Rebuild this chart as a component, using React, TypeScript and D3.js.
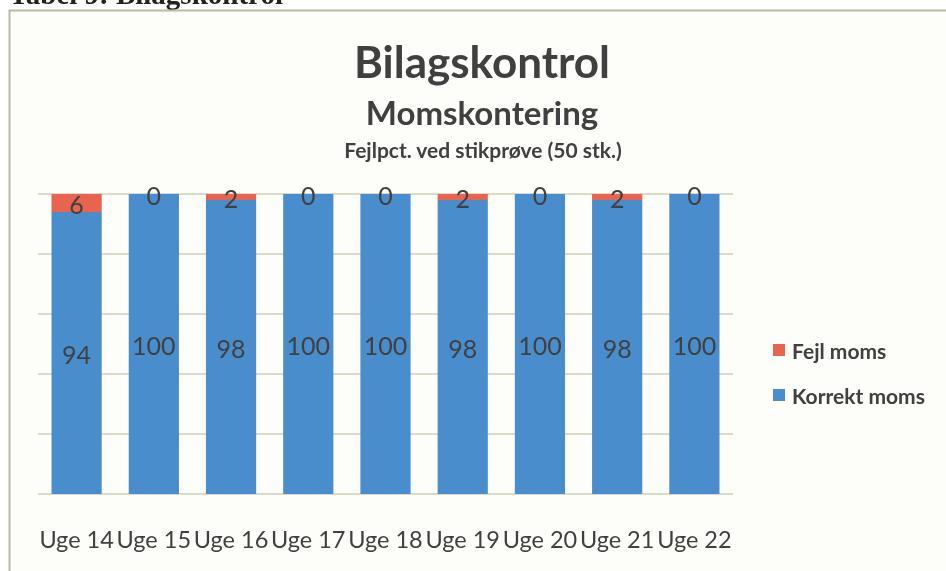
import { useRef, useEffect } from 'react'
import * as d3 from 'd3'

const weeks = ['Uge 14', 'Uge 15', 'Uge 16', 'Uge 17', 'Uge 18', 'Uge 19', 'Uge 20', 'Uge 21', 'Uge 22']
const correct = [94, 100, 98, 100, 100, 98, 100, 98, 100]
const errors = [6, 0, 2, 0, 0, 2, 0, 2, 0]
const seriesNames = ['Fejl moms', 'Korrekt moms']
const yTicks = [0, 20, 40, 60, 80, 100]

const W = 946
const H = 571
const BLUE = '#4a8dcc'
const RED = '#e8644e'
const TEXT = '#404040'
const FONT = 'Lato, "Open Sans", sans-serif'

export default function App() {
  const svgRef = useRef<SVGSVGElement>(null)

  useEffect(() => {
    if (!svgRef.current) return
    const svg = d3.select(svgRef.current)
    svg.selectAll('*').remove()

    svg.append('rect').attr('width', W).attr('height', H).attr('fill', '#ffffff')

    // caption, cut off at the top of the scan
    svg.append('text')
      .attr('x', 9).attr('y', 4)
      .attr('font-family', '"Liberation Serif", serif')
      .attr('font-weight', 'bold')
      .attr('font-size', 29)
      .attr('fill', '#222')
      .text('Tabel 9: Bilagskontrol')

    // chart frame
    svg.append('rect')
      .attr('x', 9.5).attr('y', 10.5)
      .attr('width', W + 20).attr('height', H + 20)
      .attr('fill', '#fdfdfa')
      .attr('stroke', '#b9b9a4')
      .attr('stroke-width', 2)

    const margin = { top: 194, left: 38, right: 213, bottom: 77 }
    const x = d3.scaleBand<string>().domain(weeks).range([margin.left, W - margin.right]).paddingInner(0.35).paddingOuter(0.175)
    const y = d3.scaleLinear().domain([0, 100]).range([H - margin.bottom, margin.top])

    // gridlines
    svg.append('g')
      .selectAll('line')
      .data(yTicks)
      .join('line')
      .attr('x1', margin.left).attr('x2', W - margin.right)
      .attr('y1', (d) => y(d)).attr('y2', (d) => y(d))
      .attr('stroke', '#cfcfb8')
      .attr('stroke-width', 1.5)

    const rows = weeks.map((w, i) => ({ week: w, correct: correct[i], error: errors[i] }))

    // Korrekt moms
    svg.append('g')
      .selectAll('rect')
      .data(rows)
      .join('rect')
      .attr('x', (d) => x(d.week) ?? 0)
      .attr('y', (d) => y(d.correct))
      .attr('width', x.bandwidth())
      .attr('height', (d) => y(0) - y(d.correct))
      .attr('fill', BLUE)

    // Fejl moms
    svg.append('g')
      .selectAll('rect')
      .data(rows)
      .join('rect')
      .attr('x', (d) => x(d.week) ?? 0)
      .attr('y', (d) => y(d.correct + d.error))
      .attr('width', x.bandwidth())
      .attr('height', (d) => y(d.correct) - y(d.correct + d.error))
      .attr('fill', RED)

    // value labels
    const labels = svg.append('g')
      .attr('font-family', FONT)
      .attr('font-size', 25)
      .attr('fill', TEXT)
      .attr('text-anchor', 'middle')
      .attr('dominant-baseline', 'central')

    labels.selectAll('.lc')
      .data(rows)
      .join('text')
      .attr('x', (d) => (x(d.week) ?? 0) + x.bandwidth() / 2)
      .attr('y', (d) => (y(0) + y(d.correct)) / 2 + 1)
      .text((d) => d.correct)

    labels.selectAll('.le')
      .data(rows)
      .join('text')
      .attr('x', (d) => (x(d.week) ?? 0) + x.bandwidth() / 2)
      .attr('y', (d) => (y(d.correct) + y(d.correct + d.error)) / 2 + 1)
      .text((d) => d.error)

    // x axis labels
    svg.append('g')
      .selectAll('text')
      .data(weeks)
      .join('text')
      .attr('x', (d) => (x(d) ?? 0) + x.bandwidth() / 2)
      .attr('y', 539)
      .attr('text-anchor', 'middle')
      .attr('dominant-baseline', 'central')
      .attr('font-family', FONT)
      .attr('font-size', 23.5)
      .attr('fill', TEXT)
      .text((d) => d)

    // titles
    const titles = svg.append('g')
      .attr('font-family', FONT)
      .attr('font-weight', 'bold')
      .attr('fill', TEXT)
      .attr('text-anchor', 'middle')
      .attr('dominant-baseline', 'central')
    titles.append('text').attr('x', 482).attr('y', 61).attr('font-size', 44).text('Bilagskontrol')
    titles.append('text').attr('x', 482).attr('y', 112).attr('font-size', 33).text('Momskontering')
    titles.append('text').attr('x', 483).attr('y', 149).attr('font-size', 21).text('Fejlpct. ved stikprøve (50 stk.)')

    // legend
    const legend = svg.append('g')
      .selectAll('g')
      .data(seriesNames)
      .join('g')
      .attr('transform', (_, i) => `translate(773,${350 + i * 45})`)
    legend.append('rect')
      .attr('x', 0).attr('y', -6)
      .attr('width', 12).attr('height', 12)
      .attr('fill', (_, i) => (i === 0 ? RED : BLUE))
    legend.append('text')
      .attr('x', 19).attr('y', 0)
      .attr('dominant-baseline', 'central')
      .attr('font-family', FONT)
      .attr('font-weight', 'bold')
      .attr('font-size', 21)
      .attr('fill', TEXT)
      .text((d) => d)
  }, [])

  return (
    <div style={{ position: 'fixed', left: 0, top: 0 }}>
      <svg ref={svgRef} width={W} height={H} style={{ display: 'block' }} />
    </div>
  )
}
